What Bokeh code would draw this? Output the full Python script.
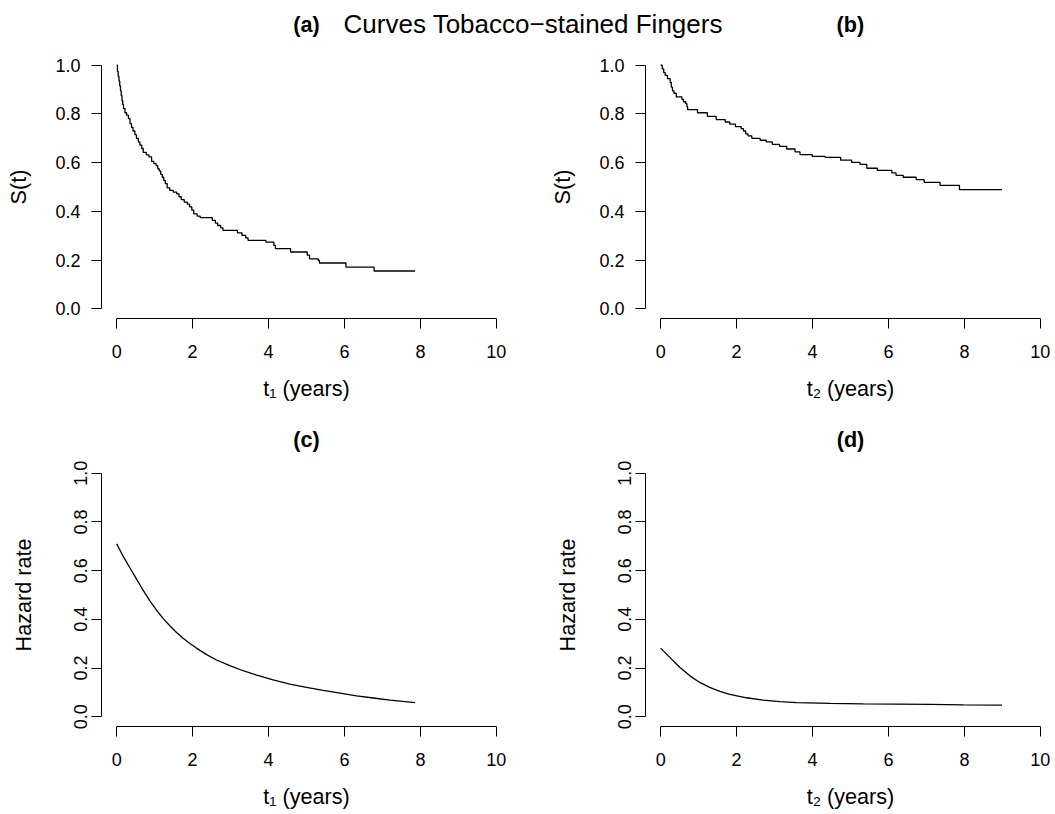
from bokeh.plotting import figure
from bokeh.models import Range1d, FixedTicker, NumeralTickFormatter, Div
from bokeh.layouts import column, row
from bokeh.embed import file_html
from bokeh.resources import INLINE

FONT = "Liberation Sans"

# ---- data -----------------------------------------------------------------
x_ticks = [0, 2, 4, 6, 8, 10]
y_ticks = [0.0, 0.2, 0.4, 0.6, 0.8, 1.0]

# Kaplan-Meier estimate, time to first event (t1)
km1_t = [0.00, 0.02, 0.04, 0.06, 0.08, 0.10, 0.12, 0.14, 0.16, 0.18, 0.22, 0.26,
         0.31, 0.35, 0.39, 0.43, 0.48, 0.52, 0.57, 0.61, 0.66, 0.70, 0.78, 0.85,
         0.92, 0.98, 1.04, 1.08, 1.12, 1.16, 1.20, 1.24, 1.28, 1.33, 1.40, 1.49,
         1.58, 1.64, 1.70, 1.78, 1.86, 1.92, 1.98, 2.03, 2.12, 2.20, 2.52, 2.60,
         2.66, 2.74, 2.80, 3.18, 3.30, 3.40, 3.46, 3.93, 4.14, 4.18, 4.58, 5.02,
         5.08, 5.31, 5.34, 6.04, 6.78, 7.86]
km1_s = [1.000, 0.975, 0.955, 0.935, 0.915, 0.895, 0.875, 0.855, 0.838, 0.822, 0.805, 0.795,
         0.781, 0.760, 0.745, 0.730, 0.715, 0.700, 0.685, 0.672, 0.658, 0.642, 0.632, 0.624,
         0.605, 0.596, 0.588, 0.575, 0.566, 0.552, 0.540, 0.527, 0.514, 0.496, 0.486, 0.479,
         0.472, 0.460, 0.448, 0.438, 0.430, 0.418, 0.405, 0.390, 0.380, 0.374, 0.363, 0.352,
         0.342, 0.332, 0.322, 0.312, 0.301, 0.291, 0.281, 0.274, 0.260, 0.247, 0.233, 0.220,
         0.205, 0.199, 0.188, 0.171, 0.155, 0.155]

# Kaplan-Meier estimate, time to second event (t2)
km2_t = [0.00, 0.04, 0.08, 0.12, 0.18, 0.25, 0.28, 0.31, 0.35, 0.41, 0.56, 0.60,
         0.66, 0.69, 0.71, 0.97, 1.23, 1.46, 1.70, 1.82, 1.97, 2.12, 2.18, 2.24,
         2.30, 2.40, 2.62, 2.78, 2.94, 3.13, 3.32, 3.54, 3.67, 3.99, 4.33, 4.74,
         5.03, 5.25, 5.43, 5.71, 6.09, 6.20, 6.39, 6.73, 6.94, 7.36, 7.87, 8.99]
km2_s = [1.000, 0.985, 0.970, 0.958, 0.945, 0.930, 0.910, 0.895, 0.885, 0.870, 0.860, 0.850,
         0.842, 0.830, 0.818, 0.805, 0.790, 0.777, 0.767, 0.758, 0.748, 0.740, 0.730, 0.718,
         0.710, 0.700, 0.692, 0.685, 0.675, 0.667, 0.656, 0.644, 0.633, 0.626, 0.622, 0.610,
         0.601, 0.593, 0.577, 0.568, 0.558, 0.548, 0.540, 0.530, 0.519, 0.507, 0.489, 0.489]

# Estimated hazard rate for t1
hz1_t = [0.00, 0.16, 0.34, 0.52, 0.69, 0.87, 1.05, 1.22, 1.40, 1.57, 1.75, 1.93,
         2.10, 2.37, 2.63, 2.98, 3.33, 3.69, 4.12, 4.56, 5.00, 5.44, 5.88, 6.32,
         6.76, 7.20, 7.86]
hz1_h = [0.710, 0.662, 0.614, 0.566, 0.521, 0.477, 0.438, 0.404, 0.374, 0.347, 0.322, 0.301,
         0.282, 0.255, 0.233, 0.210, 0.189, 0.171, 0.151, 0.134, 0.121, 0.108, 0.097, 0.086,
         0.077, 0.068, 0.058]

# Estimated hazard rate for t2
hz2_t = [0.00, 0.24, 0.50, 0.77, 1.03, 1.29, 1.56, 1.82, 2.26, 2.70, 3.14, 3.58,
         4.46, 5.34, 6.22, 7.10, 7.98, 8.99]
hz2_h = [0.282, 0.244, 0.203, 0.168, 0.141, 0.121, 0.104, 0.092, 0.078, 0.068, 0.062, 0.058,
         0.055, 0.053, 0.052, 0.051, 0.049, 0.048]

main_title = "Curves Tobacco\u2212stained Fingers"
panel_titles = ["(a)", "(b)", "(c)", "(d)"]
x_labels = ["t\u2081 (years)", "t\u2082 (years)"]
y_labels = ["S(t)", "Hazard rate"]


# ---- helpers --------------------------------------------------------------
def make_panel(width, height, top, bottom, right, xlab, ylab, rotated, title=None):
    p = figure(width=width, height=height,
               x_range=Range1d(-0.4, 10.4), y_range=Range1d(-0.04, 1.04),
               min_border_left=101, min_border_right=right,
               min_border_top=top, min_border_bottom=bottom,
               toolbar_location=None, output_backend="svg")
    p.grid.visible = False
    p.outline_line_color = None
    p.background_fill_color = "white"
    p.border_fill_color = "white"

    if title is not None:
        p.title.text = title
        p.title.align = "center"
        p.title.text_font = FONT
        p.title.text_font_size = "21.6px"
        p.title.text_font_style = "bold"
        p.title.text_color = "black"
        p.title.standoff = 23

    for ax in (p.xaxis[0], p.yaxis[0]):
        ax.axis_line_color = "black"
        ax.axis_line_width = 1
        ax.major_tick_line_color = "black"
        ax.major_tick_out = 10
        ax.major_tick_in = 0
        ax.minor_tick_line_color = None
        ax.major_label_text_font = FONT
        ax.major_label_text_font_size = "18px"
        ax.major_label_text_color = "black"
        ax.axis_label_text_font = FONT
        ax.axis_label_text_font_size = "21.6px"
        ax.axis_label_text_font_style = "normal"
        ax.axis_label_text_color = "black"

    xa = p.xaxis[0]
    xa.ticker = FixedTicker(ticks=x_ticks)
    xa.bounds = (0, 10)
    xa.major_label_standoff = 16
    xa.axis_label = xlab
    xa.axis_label_standoff = 15

    ya = p.yaxis[0]
    ya.ticker = FixedTicker(ticks=y_ticks)
    ya.bounds = (0, 1)
    ya.formatter = NumeralTickFormatter(format="0.0")
    ya.axis_label = ylab
    if rotated:
        ya.major_label_orientation = "vertical"
        ya.major_label_standoff = 4
        ya.axis_label_standoff = 36
    else:
        ya.major_label_standoff = 11
        ya.axis_label_standoff = 21
    return p


# ---- heading strip: overall title plus the (a)/(b) panel titles ------------
def span(text, cx, top, size, weight):
    return (f'<span style="position:absolute;left:{cx}px;top:{top}px;'
            f'transform:translateX(-50%);white-space:nowrap;'
            f'font-family:\'{FONT}\';font-size:{size}px;font-weight:{weight};'
            f'line-height:1;color:black;">{text}</span>')


heading_html = (
    '<div style="position:relative;width:1055px;height:42px;margin:0;padding:0;">'
    + span(main_title, 533, 11.3, 26, "normal")
    + span(panel_titles[0], 306.4, 13.9, 21.6, "bold")
    + span(panel_titles[1], 850.4, 13.9, 21.6, "bold")
    + '</div>'
)
heading = Div(text=heading_html, width=1055, height=42, margin=0)

# ---- survival panels --------------------------------------------------------
pa = make_panel(544, 365, 13, 89, 33, x_labels[0], y_labels[0], False)
pa.step(km1_t, km1_s, mode="after", line_color="black", line_width=1.3)

pb = make_panel(511, 365, 13, 89, 0, x_labels[1], y_labels[0], False)
pb.step(km2_t, km2_s, mode="after", line_color="black", line_width=1.3)

# ---- hazard panels ----------------------------------------------------------
pc = make_panel(544, 407, 56, 88, 33, x_labels[0], y_labels[1], True, panel_titles[2])
pc.line(hz1_t, hz1_h, line_color="black", line_width=1.3)

pd = make_panel(511, 407, 56, 88, 0, x_labels[1], y_labels[1], True, panel_titles[3])
pd.line(hz2_t, hz2_h, line_color="black", line_width=1.3)

layout = column(heading, row(pa, pb), row(pc, pd))
open("out.html", "w").write(file_html(layout, INLINE))
